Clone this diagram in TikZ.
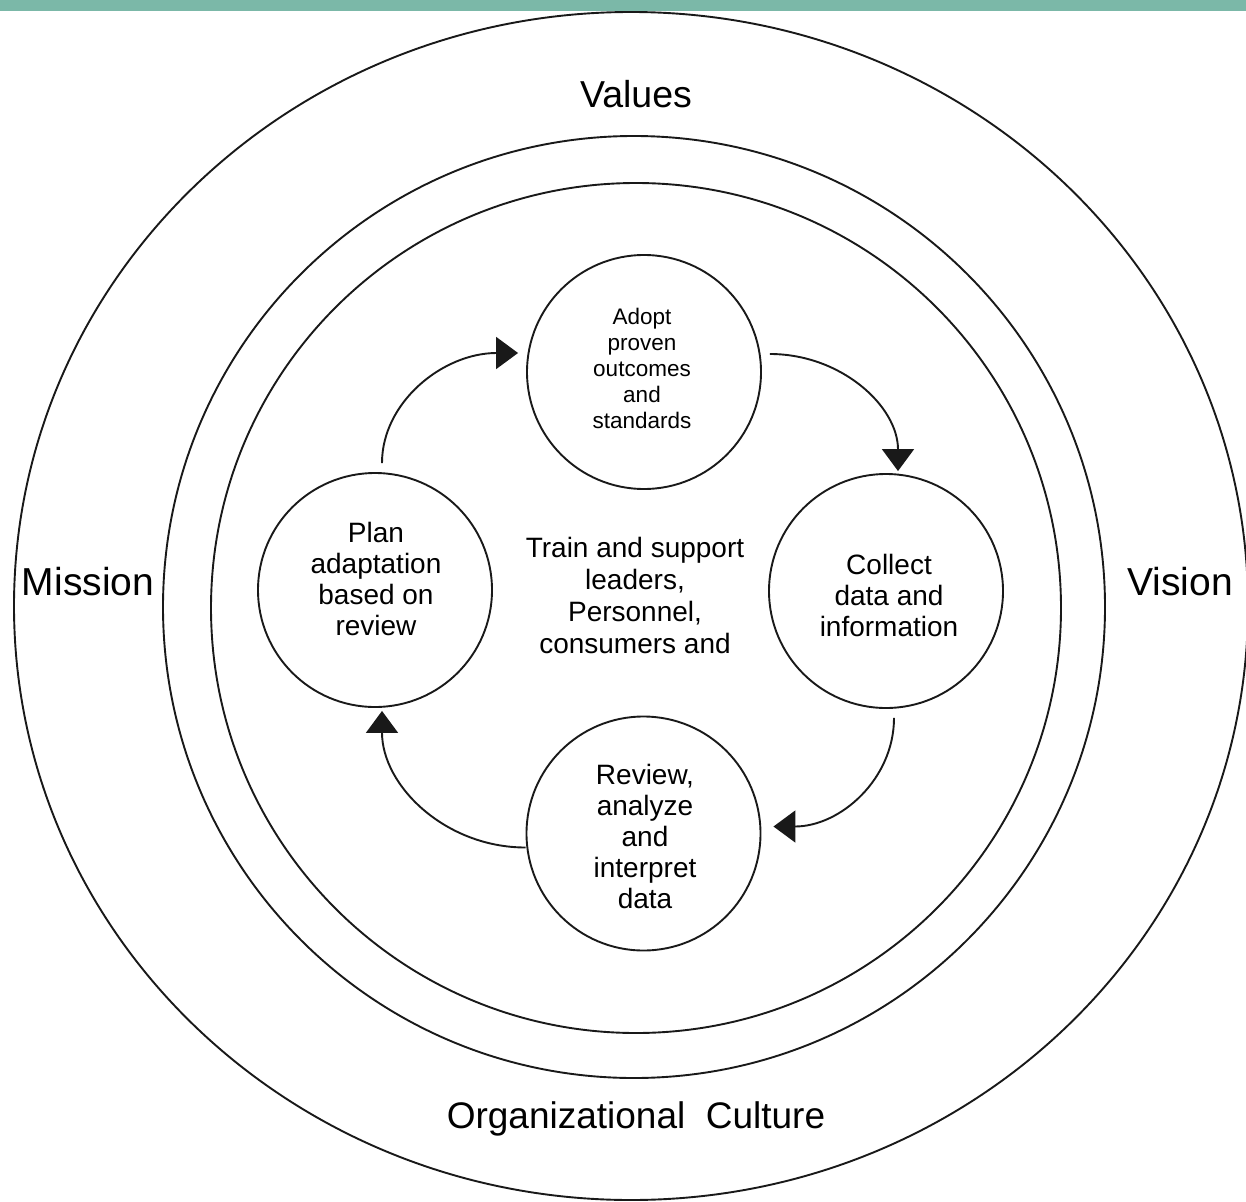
\documentclass[tikz,border=0pt]{standalone}
\usepackage{fontspec}
\setmainfont{Liberation Sans}
\usetikzlibrary{calc,arrows.meta}
\definecolor{barteal}{HTML}{7BB8A8}
\begin{document}
\begin{tikzpicture}[x=1pt,y=-1pt,
  ring/.style={line width=1.9pt, draw=black!90},
  stage/.style={circle, draw=black!90, line width=1.9pt, minimum size=234pt, inner sep=0pt},
  big/.style={anchor=base, font=\fontsize{39}{45}\selectfont},
  mid/.style={align=center, font=\fontsize{28}{31}\selectfont},
  small/.style={align=center, font=\fontsize{22.5}{26}\selectfont},
  flow/.style={line width=1.9pt, draw=black!90, -{Triangle[length=22pt,width=32pt]}}
]
\useasboundingbox (0,0) rectangle (1246,1201);
\fill[barteal] (0,0) rectangle (1246,11);

% rings
\draw[ring] (631,606) ellipse [x radius=617pt, y radius=594pt];
\draw[ring] (634,607) circle [radius=471pt];
\draw[ring] (636,608) circle [radius=425pt];

% ring labels
\node[big, font=\fontsize{37.5}{45}\selectfont] (values) at (636,108) {Values};
\node[big] (mission) at (88,595) {Mission};
\node[big] (vision) at (1180,595) {Vision};
\node[big, font=\fontsize{37}{45}\selectfont] (culture) at (636,1128) {Organizational\ \ Culture};

% stage circles
\node[stage] (adopt) at (644,372) {};
\node[stage] (plan) at (375,590) {};
\node[stage] (collect) at (886,591) {};
\node[stage] (review) at (643.5,833.5) {};

% stage texts
\node[small] (adopttext) at (642,368) {Adopt\\proven\\outcomes\\and\\standards};
\node[mid] (plantext) at (376,579) {Plan\\adaptation\\based on\\review};
\node[mid] (collecttext) at (889,595) {Collect\\data and\\information};
\node[mid] (reviewtext) at (645,836) {Review,\\analyze\\and\\interpret\\data};
\node[mid, font=\fontsize{28}{32}\selectfont] (centertext) at (635,595) {Train and support\\leaders,\\Personnel,\\consumers and};

% connector end points
\coordinate (a1s) at ($(plan.north)+(7,-9)$);
\coordinate (a1e) at ($(adopt.west)+(-8,-19)$);
\coordinate (a2s) at ($(adopt.east)+(8,-18)$);
\coordinate (a2e) at ($(collect.north)+(12,-2)$);
\coordinate (a3s) at ($(collect.south)+(8,9)$);
\coordinate (a3e) at ($(review.east)+(12,-7)$);
\coordinate (a4s) at ($(review.west)+(0,14)$);
\coordinate (a4e) at ($(plan.south)+(7,3)$);

% connectors
\draw[flow] (a1s) .. controls ($(a1s)+(0,-61)$) and ($(a1e)+(-75,0)$) .. (a1e);
\draw[flow] (a2s) .. controls ($(a2s)+(71,0)$) and ($(a2e)+(0,-65)$) .. (a2e);
\draw[flow] (a3s) .. controls ($(a3s)+(0,61)$) and ($(a3e)+(67,0)$) .. (a3e);
\draw[flow] (a4s) .. controls ($(a4s)+(-80,0)$) and ($(a4e)+(0,75)$) .. (a4e);
\end{tikzpicture}
\end{document}
